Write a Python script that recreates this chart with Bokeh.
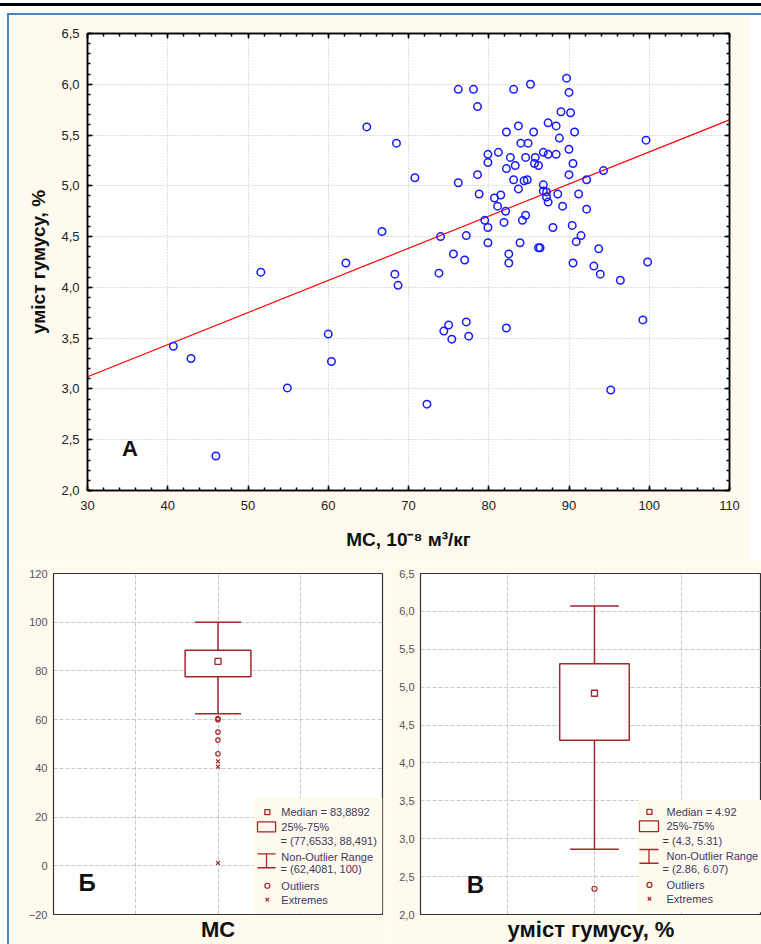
from bokeh.plotting import figure
from bokeh.layouts import column, row
from bokeh.models import (Div, SingleIntervalTicker, LinearAxis, CustomJSTickFormatter)
from bokeh.embed import file_html
from bokeh.resources import INLINE
from bokeh.core.properties import value

# ---------------- data ----------------
ms_values = [64.8, 68.5, 70.8, 66.7, 62.2, 51.6, 68.3, 68.7,
             40.7, 42.9, 60.0, 60.4, 54.9, 46.0,
             75.0, 74.4, 75.4, 77.2, 77.5, 82.2, 99.2, 72.3, 95.2,
             89.7, 76.2, 78.1, 83.1, 85.2, 90.0, 78.6, 89.0, 90.2, 87.4,
             88.4, 83.7, 82.2, 85.6, 90.7, 88.8, 99.6, 84.0, 84.9, 79.9,
             81.2, 79.9, 82.7, 84.6, 85.8, 86.8, 87.4, 88.4, 90.0, 83.3,
             82.2, 85.7, 86.2, 90.5, 90.0, 94.3, 92.2, 78.6, 76.2, 83.1,
             84.8, 84.4, 83.7, 86.8, 86.8, 87.2, 88.6, 91.2, 78.8, 81.5,
             80.7, 81.1, 87.2, 87.4, 89.2, 92.2, 82.1, 79.5, 79.9, 81.9,
             84.2, 84.6, 88.0, 90.4, 91.5, 90.9, 77.2, 74.0, 79.9, 83.9,
             75.6, 77.0, 82.5, 82.5, 86.2, 86.4, 93.7, 90.5, 93.1, 93.9,
             73.8, 96.4, 99.8]
humus_values = [5.58, 5.42, 5.08, 4.55, 4.24, 4.15, 4.13, 4.02,
                3.42, 3.30, 3.54, 3.27, 3.01, 2.34,
                3.63, 3.57, 3.49, 3.66, 3.52, 3.60, 3.68, 2.85, 2.99,
                6.06, 5.95, 5.95, 5.95, 6.00, 5.92, 5.78, 5.73, 5.72, 5.62,
                5.59, 5.59, 5.53, 5.53, 5.53, 5.47, 5.45, 5.42, 5.42, 5.31,
                5.33, 5.23, 5.28, 5.28, 5.28, 5.33, 5.31, 5.31, 5.36, 5.20,
                5.17, 5.22, 5.20, 5.22, 5.11, 5.15, 5.06, 5.11, 5.03, 5.06,
                5.06, 5.05, 4.97, 5.01, 4.95, 4.94, 4.92, 4.92, 4.92, 4.91,
                4.88, 4.80, 4.89, 4.84, 4.80, 4.77, 4.75, 4.66, 4.59, 4.64,
                4.66, 4.71, 4.59, 4.61, 4.51, 4.45, 4.51, 4.50, 4.44, 4.44,
                4.33, 4.27, 4.33, 4.24, 4.39, 4.39, 4.38, 4.24, 4.21, 4.13,
                4.14, 4.07, 4.25]
fit_x = [30, 110]
fit_y = [3.12, 5.65]

ms_box = {"median": 83.8892, "q1": 77.6533, "q3": 88.491, "lo": 62.4081, "hi": 100.0}
ms_outliers = [60.4, 60.0, 54.9, 51.6, 46.0]
ms_extremes = [42.9, 40.7, 1.2]
hum_box = {"median": 4.92, "q1": 4.3, "q3": 5.31, "lo": 2.86, "hi": 6.07}
hum_outliers = [2.34]
hum_extremes = []

ms_legend = ["Median = 83,8892", "25%-75%", "= (77,6533, 88,491)",
             "Non-Outlier Range", "= (62,4081, 100)", "Outliers", "Extremes"]
hum_legend = ["Median = 4.92", "25%-75%", "= (4.3, 5.31)",
              "Non-Outlier Range", "= (2.86, 6.07)", "Outliers", "Extremes"]

# ---------------- style ----------------
CREAM = "#FFF9EE"
FRAME_BLUE = "#4F81BD"
BOXRED = "#A3262A"
LEGTEXT = "#3A3A62"
FONT = "Liberation Sans"
comma1 = CustomJSTickFormatter(code="return tick.toFixed(1).replace('.', ',');")


def hide_labels(ax):
    ax.major_label_text_color = None
    ax.major_label_text_font_size = "1px"
    ax.major_label_standoff = 0


# ---------------- top scatter ----------------
p = figure(width=741, height=545, x_range=(30, 110), y_range=(2, 6.5),
           output_backend="svg", toolbar_location=None,
           min_border_left=78, min_border_right=21, min_border_top=18, min_border_bottom=70,
           border_fill_color=CREAM, background_fill_color="white")
p.outline_line_color = "black"
p.outline_line_width = 1.5

xt = SingleIntervalTicker(interval=10, num_minor_ticks=5)
yt = SingleIntervalTicker(interval=0.5, num_minor_ticks=5)
p.xaxis.ticker = xt
p.yaxis.ticker = yt
p.yaxis.formatter = comma1
p.xgrid.ticker = xt
p.ygrid.ticker = yt
for g in (p.xgrid, p.ygrid):
    g.grid_line_color = "#BDBDBD"
    g.grid_line_dash = "1 2"
    g.grid_line_width = 1

for ax in (p.xaxis[0], p.yaxis[0]):
    ax.axis_line_color = "black"
    ax.axis_line_width = 1.5
    ax.major_tick_in = 5
    ax.major_tick_out = 0
    ax.minor_tick_in = 3
    ax.minor_tick_out = 0
    ax.major_tick_line_width = 1.5
    ax.minor_tick_line_width = 1.5
    ax.major_label_text_font = FONT
    ax.major_label_text_font_size = "13px"
    ax.major_label_text_color = "#222222"
    ax.axis_label_text_font = FONT
    ax.axis_label_text_font_style = "bold"
    ax.axis_label_text_font_size = "19px"
    ax.axis_label_text_color = "#111111"
p.xaxis.major_label_standoff = 10
p.yaxis.major_label_standoff = 8
p.xaxis.axis_label = "МС, 10⁻⁸ м³/кг"
p.yaxis.axis_label = "уміст гумусу, %"
p.xaxis.axis_label_standoff = 16
p.yaxis.axis_label_standoff = 9

for loc, tk in (("right", yt), ("above", xt)):
    a = LinearAxis(ticker=tk, major_tick_in=5, major_tick_out=0, minor_tick_in=3,
                   minor_tick_out=0, axis_line_width=1.5, major_tick_line_width=1.5,
                   minor_tick_line_width=1.5)
    hide_labels(a)
    p.add_layout(a, loc)

p.line(fit_x, fit_y, line_color="#FF0000", line_width=1.2)
p.scatter(ms_values, humus_values, marker="circle", size=7.5, fill_color=None,
          line_color="#1A1AFF", line_width=1.5)
p.text(x=[35.3], y=[2.41], text=["А"], text_font=value(FONT), text_font_style="bold",
       text_font_size="22px", text_align="center", text_baseline="middle", text_color="#111111")


# ---------------- box plots ----------------
def box_fig(width, xr_end, yr, ytick, fmt, mb_l, mb_r, mb_t, mb_b, xlabel, label_size):
    f = figure(width=width, height=384, x_range=(0, xr_end), y_range=yr,
               output_backend="svg", toolbar_location=None,
               min_border_left=mb_l, min_border_right=mb_r, min_border_top=mb_t,
               min_border_bottom=mb_b, border_fill_color=CREAM, background_fill_color="white")
    f.outline_line_color = "#333333"
    f.outline_line_width = 1.2
    xtk = SingleIntervalTicker(interval=1, num_minor_ticks=0)
    ytk = SingleIntervalTicker(interval=ytick, num_minor_ticks=0)
    f.xaxis.ticker = xtk
    f.yaxis.ticker = ytk
    f.xgrid.ticker = xtk
    f.ygrid.ticker = ytk
    if fmt is not None:
        f.yaxis.formatter = fmt
    for g in (f.xgrid, f.ygrid):
        g.grid_line_color = "#C8C8C8"
        g.grid_line_dash = "4 2"
    f.yaxis.major_tick_in = 0
    f.yaxis.major_tick_out = 0
    f.yaxis.minor_tick_line_color = None
    f.yaxis.major_label_text_font = FONT
    f.yaxis.major_label_text_font_size = "11px"
    f.yaxis.major_label_text_color = "#555555"
    f.yaxis.major_label_standoff = 6
    f.yaxis.axis_line_color = "#333333"
    f.xaxis.major_tick_in = 0
    f.xaxis.major_tick_out = 0
    f.xaxis.minor_tick_line_color = None
    hide_labels(f.xaxis[0])
    f.xaxis.axis_line_color = "#333333"
    f.xaxis.axis_label = xlabel
    f.xaxis.axis_label_standoff = 2
    f.xaxis.axis_label_text_font = FONT
    f.xaxis.axis_label_text_font_style = "bold"
    f.xaxis.axis_label_text_font_size = label_size
    f.xaxis.axis_label_text_color = "#111111"
    return f


def draw_box(f, st, outl, extr, msize):
    c = 2
    f.quad(left=[c - 0.4], right=[c + 0.4], bottom=[st["q1"]], top=[st["q3"]],
           fill_color="white", line_color=BOXRED, line_width=1.5)
    f.segment(x0=[c, c], y0=[st["q3"], st["q1"]], x1=[c, c], y1=[st["hi"], st["lo"]],
              line_color=BOXRED, line_width=1.5)
    f.segment(x0=[c - 0.28, c - 0.28], y0=[st["hi"], st["lo"]],
              x1=[c + 0.28, c + 0.28], y1=[st["hi"], st["lo"]],
              line_color=BOXRED, line_width=1.5)
    f.scatter([c], [st["median"]], marker="square", size=6, fill_color=None,
              line_color=BOXRED, line_width=1.3)
    if outl:
        f.scatter([c] * len(outl), outl, marker="circle", size=msize, fill_color=None,
                  line_color=BOXRED, line_width=1.2)
    if extr:
        f.scatter([c] * len(extr), extr, marker="x", size=msize + 1, line_color=BOXRED,
                  line_width=1.2)


def draw_legend(f, texts, xl, xr, yb, yt, sym_x, sym_x0, sym_x1, txt_x, txt_x2, ys, rect_y, wh_y):
    f.quad(left=[xl], right=[xr], bottom=[yb], top=[yt], fill_color=CREAM, line_color=None)
    f.scatter([sym_x], [ys[0]], marker="square", size=5, fill_color=None,
              line_color=BOXRED, line_width=1.3)
    f.quad(left=[sym_x0], right=[sym_x1], bottom=[rect_y[0]], top=[rect_y[1]],
           fill_color=None, line_color=BOXRED, line_width=1.3)
    mid = (sym_x0 + sym_x1) / 2
    f.segment(x0=[mid, sym_x0, sym_x0], y0=[wh_y[0], wh_y[0], wh_y[1]],
              x1=[mid, sym_x1, sym_x1], y1=[wh_y[1], wh_y[0], wh_y[1]],
              line_color=BOXRED, line_width=1.3)
    f.scatter([sym_x], [ys[5]], marker="circle", size=5, fill_color=None,
              line_color=BOXRED, line_width=1.2)
    f.scatter([sym_x], [ys[6]], marker="x", size=5, line_color=BOXRED, line_width=1.2)
    xs = [txt_x, txt_x, txt_x2, txt_x, txt_x2, txt_x, txt_x]
    f.text(x=xs, y=ys, text=texts, text_font=value(FONT), text_font_size="11px",
           text_color=LEGTEXT, text_baseline="middle", text_align="left")


b1 = box_fig(379, 4.0, (-20, 120), 20, None, 44, 6, 13, 28, "МС", "22px")
draw_box(b1, ms_box, ms_outliers, ms_extremes, 4.5)
draw_legend(b1, ms_legend, 2.43, 4.0, -19.5, 27.8, 2.60, 2.48, 2.70, 2.77, 2.76,
            [22.0, 15.9, 10.2, 3.7, -1.2, -8.2, -13.9], (13.9, 18.0), (-0.8, 4.9))
b1.text(x=[0.41], y=[-6.7], text=["Б"], text_font=value(FONT), text_font_style="bold",
        text_font_size="24px", text_align="center", text_baseline="middle", text_color="#111111")

b2 = box_fig(373, 3.92, (2, 6.5), 0.5, comma1, 32, 0, 11, 27, "уміст гумусу, %", "22px")
draw_box(b2, hum_box, hum_outliers, hum_extremes, 5)
draw_legend(b2, hum_legend, 2.506, 3.92, 2.03, 3.51, 2.632, 2.517, 2.736, 2.828, 2.782,
            [3.353, 3.171, 2.976, 2.767, 2.598, 2.390, 2.208], (3.093, 3.236), (2.676, 2.858))
b2.text(x=[0.63], y=[2.40], text=["В"], text_font=value(FONT), text_font_style="bold",
        text_font_size="24px", text_align="center", text_baseline="middle", text_color="#111111")

# ---------------- page layout ----------------
def bar(w, h, color):
    return Div(text="", width=w, height=h, margin=0,
               styles={"background-color": color})

inner = column(bar(752, 2, FRAME_BLUE),
               row(p, bar(11, 545, "white"), spacing=0),
               row(b1, b2, spacing=0), spacing=0)
page = column(bar(761, 3, "white"), bar(761, 3, "black"), bar(761, 7, "white"),
              row(bar(7, 931, "white"), bar(2, 931, FRAME_BLUE), inner, spacing=0),
              spacing=0)

open("out.html", "w").write(file_html(page, INLINE))
